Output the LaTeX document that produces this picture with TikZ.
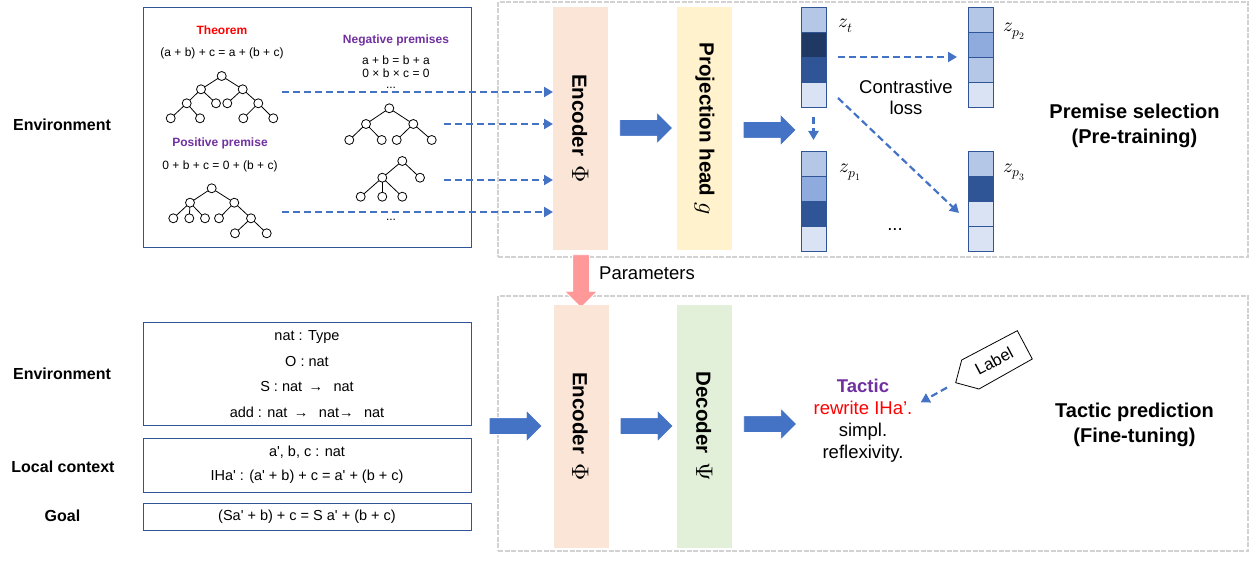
\documentclass[tikz,border=0pt]{standalone}
\usepackage{fontspec}
\usepackage{unicode-math}
\setmainfont{Liberation Sans}[Ligatures=TeXOff]
\setmathfont{Latin Modern Math}
\usetikzlibrary{arrows.meta,shapes.arrows}
\definecolor{bluearr}{HTML}{4472C4}
\definecolor{boxblue}{HTML}{2F5597}
\definecolor{encfill}{HTML}{FBE5D6}
\definecolor{projfill}{HTML}{FFF2CC}
\definecolor{decfill}{HTML}{E2F0D9}
\definecolor{vA}{HTML}{B4C7E7}
\definecolor{vB}{HTML}{8FAADC}
\definecolor{vC}{HTML}{2F5597}
\definecolor{vD}{HTML}{203864}
\definecolor{vE}{HTML}{DAE3F3}
\definecolor{thmred}{HTML}{FF0000}
\definecolor{purp}{HTML}{7030A0}
\definecolor{pinkarr}{HTML}{FF9999}
\newcommand\fsz[2]{\fontsize{#1}{#2}\selectfont}
\newcommand\vecbar[7]{%
  \foreach \c [count=\i] in {#4,#5,#6,#7} \node[cell, fill=\c] at (#2,#3+25*\i-12.5) {};
  \node[vecfr] (#1) at (#2,#3+50) {};}
\newcommand\bigsym[1]{{\fsz{24}{24}$#1$}}
\tikzset{
 every node/.style={inner sep=0pt, outer sep=0pt},
 region/.style={draw=gray!35, line width=2.5pt, dash pattern=on 5pt off 1.5pt, minimum width=750pt, minimum height=255pt},
 frame/.style={draw=boxblue, line width=1pt, minimum width=328pt},
 tn/.style={circle, draw=black, fill=white, line width=0.8pt, minimum size=9pt},
 te/.style={line width=0.8pt},
 bigbar/.style={minimum width=55pt, minimum height=243pt},
 bartext/.style={rotate=-90, font=\bfseries\fsz{20.5}{24}},
 barrow/.style={single arrow, fill=bluearr, draw=white, line width=0.8pt, minimum height=53pt, inner sep=8pt, single arrow head extend=7.5pt},
 dasharr/.style={draw=bluearr, line width=2.5pt, dash pattern=on 7pt off 4pt, -{Triangle[length=9pt,width=10pt]}},
 vecfr/.style={draw=boxblue, line width=0.8pt, minimum width=25pt, minimum height=100pt},
 cell/.style={draw=boxblue, line width=0.8pt, minimum size=25pt},
 side/.style={font=\bfseries\fsz{16}{19}},
 small/.style={font=\fsz{12}{14}},
 smallb/.style={font=\bfseries\fsz{12}{14}},
 title/.style={font=\bfseries\fsz{20}{25}, align=center},
 mid/.style={font=\fsz{18.5}{21}, align=center},
 zlab/.style={font=\fsz{19.5}{22}},
}
\begin{document}
\begin{tikzpicture}[x=1pt,y=-1pt]
\useasboundingbox (0,0) rectangle (1251,561);
% regions
\node[region] (pre) at (873,129.5) {};
\node[region] (fine) at (873,423.5) {};
% side labels
\node[side] (envlab1) at (62,125) {Environment};
\node[side] (envlab2) at (62,374) {Environment};
\node[side] (ctxlab) at (63,467) {Local context};
\node[side] (goallab) at (62.5,516) {Goal};
% top-left box
\node[frame, minimum height=240pt] (envT) at (307,128) {};
\node[smallb, text=thmred] (thm) at (222,30) {Theorem};
\node[small] (thmeq) at (222,53) {(a + b) + c = a + (b + c)};
\node[smallb, text=purp] (pos) at (220,143) {Positive premise};
\node[small] (poseq) at (220,166) {0 + b + c = 0 + (b + c)};
\node[smallb, text=purp] (neg) at (396,40) {Negative premises};
\node[small] (neg1) at (396,60) {a + b = b + a};
\node[small] (neg2) at (396,73) {0 × b × c = 0};
\node[small, anchor=base] (negdots) at (391,89) {...};
\node[small, anchor=base] (negdots2) at (391,221) {...};
% trees
\foreach \n/\x/\y in {a0/221.7/76, a1/201/89.3, a2/242.7/89.3, a3/186.7/103.3, a4/216/103.3, a5/227.3/103.3, a6/258.3/103.3, a7/170.7/118.3, a8/200/118.3, a9/243.3/118.3, a10/273.3/118.3,
  b0/211.7/188.3, b1/190/202.7, b2/234.3/202.7, b3/173.3/218.3, b4/189.3/218.3, b5/205/218.3, b6/219/218.3, b7/251/218.3, b8/235/233.3, b9/266.7/233.3,
  c0/389.3/108.3, c1/366/124, c2/413.3/124, c3/349.3/140, c4/381.7/140, c5/396.7/140, c6/431.7/140,
  d0/402.3/161, d1/382.3/177.7, d2/420/177.7, d3/360.7/196.7, d4/382.3/196.7, d5/402.3/196.7}
  \node[tn] (\n) at (\x,\y) {};
\foreach \u/\v in {a0/a1,a0/a2,a1/a3,a1/a4,a2/a5,a2/a6,a3/a7,a3/a8,a6/a9,a6/a10,
  b0/b1,b0/b2,b1/b3,b1/b4,b1/b5,b2/b6,b2/b7,b7/b8,b7/b9,
  c0/c1,c0/c2,c1/c3,c1/c4,c2/c5,c2/c6,
  d0/d1,d0/d2,d1/d3,d1/d4,d1/d5}
  \draw[te] (\u) -- (\v);
% bars top
\node[bigbar, fill=encfill] (encT) at (580.5,128.5) {};
\node[bartext] at (encT) {Encoder\hspace{9pt}\bigsym{\Phi}};
\node[bigbar, fill=projfill] (proj) at (704.5,128.5) {};
\node[bartext] at (proj) {Projection head \bigsym{g}};
% input arrows
\coordinate (s1) at (282,92);
\coordinate (s2) at (444,124);
\coordinate (s3) at (444,180);
\coordinate (s4) at (282,212);
\foreach \s in {s1,s2,s3,s4} \draw[dasharr] (\s) -- (\s -| encT.west);
% block arrows top
\node[barrow] (ta1) at (642,128) {};
\node[barrow] (ta2) at (765.5,130) {};
% vectors
\vecbar{zt}{813.5}{7}{vA}{vD}{vC}{vE}
\vecbar{zp2}{980.5}{7}{vA}{vB}{vA}{vE}
\vecbar{zp1}{813.5}{151}{vA}{vB}{vC}{vE}
\vecbar{zp3}{980.5}{151}{vA}{vC}{vE}{vE}
\node[zlab] (lzt) at (846,26) {$z_t$};
\node[zlab] (lzp2) at (1014,31) {$z_{p_2}$};
\node[zlab] (lzp1) at (850,172) {$z_{p_1}$};
\node[zlab] (lzp3) at (1014,172) {$z_{p_3}$};
\draw[dasharr, line width=2.2pt, shorten <=12pt, shorten >=11pt] (zt.east) -- (zp2.west);
\draw[dasharr, line width=2.2pt, shorten <=10pt, shorten >=11pt] (zt.south) -- (zp1.north);
\coordinate (dgA) at (838,98);
\coordinate (dgB) at (959,213);
\draw[dasharr, line width=2.2pt] (dgA) -- (dgB);
\node[mid] (closs) at (906,97.5) {Contrastive\\loss};
\node[mid, anchor=base] (vdots) at (895,231) {...};
\node[title] (psel) at (1134.5,125.5) {Premise selection\\(Pre-training)};
% parameters
\node[single arrow, fill=pinkarr, draw=white, line width=0.8pt, rotate=-90, minimum height=53pt, inner sep=8pt, single arrow head extend=8pt] (par) at (581,277) {};
\node[mid] (partext) at (647,273) {Parameters};
% bottom boxes
\node[frame, minimum height=102pt, align=center, font=\fsz{14.5}{25.7}] (envB) at (307,374) {nat : Type\\O : nat\\S : nat \,→\, \ nat\\add : nat \,→\, \ nat→\, \ nat};
\node[frame, minimum height=54pt, align=center, font=\fsz{14.5}{24}] (ctx) at (307,465) {a', b, c : nat\\IHa' : (a' + b) + c = a' + (b + c)};
\node[frame, minimum height=27pt, font=\fsz{14.5}{17}] (goal) at (307,516.5) {(Sa' + b) + c = S a' + (b + c)};
% bottom bars
\node[bigbar, fill=encfill] (encB) at (581,426.5) {};
\node[bartext] at (encB) {Encoder\hspace{9pt}\bigsym{\Phi}};
\node[bigbar, fill=decfill] (dec) at (704.5,426.5) {};
\node[bartext] at (dec) {Decoder\hspace{9pt}\bigsym{\Psi}};
\node[barrow] (ba0) at (511.5,426) {};
\node[barrow] (ba1) at (642.5,426) {};
\node[barrow] (ba2) at (766,424) {};
% tactic
\node[mid, font=\fsz{18.5}{22}] (tac) at (863,421) {\textcolor{purp}{\textbf{Tactic}}\\\textcolor{thmred}{rewrite IHa’.}\\simpl.\\reflexivity.};
% label tag
\coordinate (tg1) at (955.7,382.7);
\coordinate (tg2) at (961.7,360);
\coordinate (tg3) at (1017.3,330.7);
\coordinate (tg4) at (1032.3,359);
\coordinate (tg5) at (979,389);
\draw[line width=0.8pt, fill=white] (tg1) -- (tg2) -- (tg3) -- (tg4) -- (tg5) -- cycle;
\node[rotate=28, font=\fsz{16.5}{20}] (lab) at (994,361) {Label};
\coordinate (tgB) at (920.7,402.3);
\draw[dasharr, line width=2.2pt, shorten <=10pt] (tg1) -- (tgB);
\node[title] (tpred) at (1134.5,424.5) {Tactic prediction\\(Fine-tuning)};
\end{tikzpicture}
\end{document}
